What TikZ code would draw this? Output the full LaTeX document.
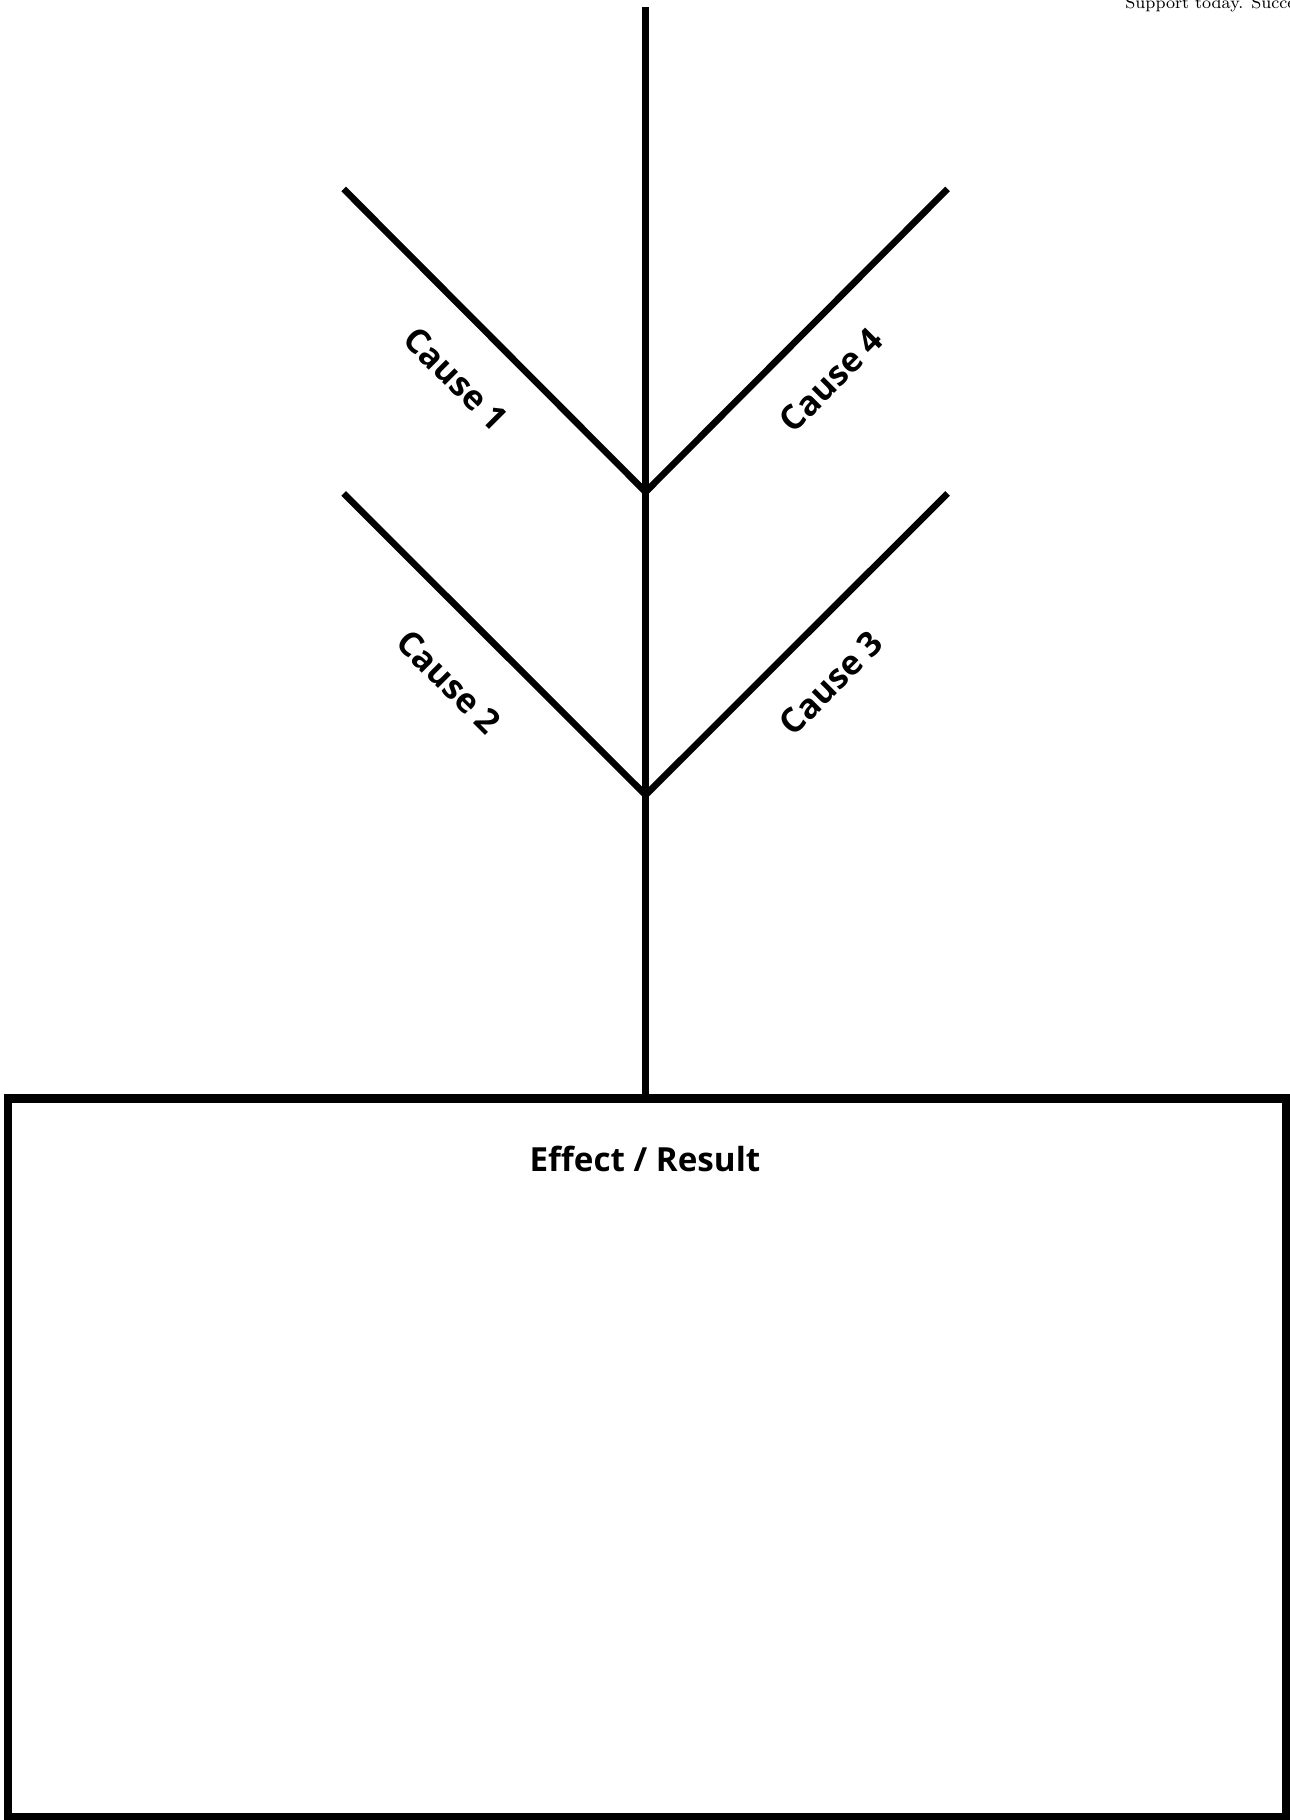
\documentclass[tikz,border=0pt]{standalone}
\usepackage{fontspec}
\setmainfont{Open Sans}
\newfontfamily\notefont{Latin Modern Roman}
\usetikzlibrary{positioning}
\tikzset{
    branch/.style={
        line width=3.3pt,
        line cap=butt
    },
    frame/.style={
        line width=4.3pt
    },
    causelabel/.style={
        font=\bfseries\fontsize{17}{20}\selectfont,
        inner sep=0pt
    },
    effectlabel/.style={
        font=\bfseries\fontsize{16.6}{20}\selectfont,
        inner sep=0pt
    }
}

\begin{document}
\begin{tikzpicture}[x=0.5pt,y=-0.5pt]

    \useasboundingbox (0,0) rectangle (1290,1820);
    \clip (0,0) rectangle (1290,1820);

    % Points du tronc
    \coordinate (top) at (645.6,7);
    \coordinate (upper) at (645.6,492);
    \coordinate (lower) at (645.6,795);
    \coordinate (boxtop) at (645.6,1098.5);

    % Extremites des branches
    \coordinate (c1end) at (343.7,189);
    \coordinate (c4end) at (947.5,189);
    \coordinate (c2end) at (343.7,493.5);
    \coordinate (c3end) at (947.5,493.5);

    % Tronc
    \draw[branch]
        (top) -- (boxtop);

    % Branches
    \draw[branch] (c1end) -- (upper);
    \draw[branch] (c4end) -- (upper);
    \draw[branch] (c2end) -- (lower);
    \draw[branch] (c3end) -- (lower);

    % Cadre
    \draw[frame]
        (8,1098.5) rectangle (1286,1817.5);

    % Etiquettes
    \node[causelabel, rotate=-45] (cause1)
        at (456,379) {Cause 1};
    \node[causelabel, rotate=-45] (cause2)
        at (449,682) {Cause 2};
    \node[causelabel, rotate=45] (cause3)
        at (831,683) {Cause 3};
    \node[causelabel, rotate=45] (cause4)
        at (831,380) {Cause 4};

    % Effet
    \node[effectlabel] (effect)
        at (645,1159) {Effect / Result};

    % Note
    \node[
        font=\notefont\fontsize{8.5}{10}\selectfont,
        anchor=base west,
        inner sep=0pt
    ] (note)
        at (1125,9) {Support today. Succe};

\end{tikzpicture}
\end{document}
